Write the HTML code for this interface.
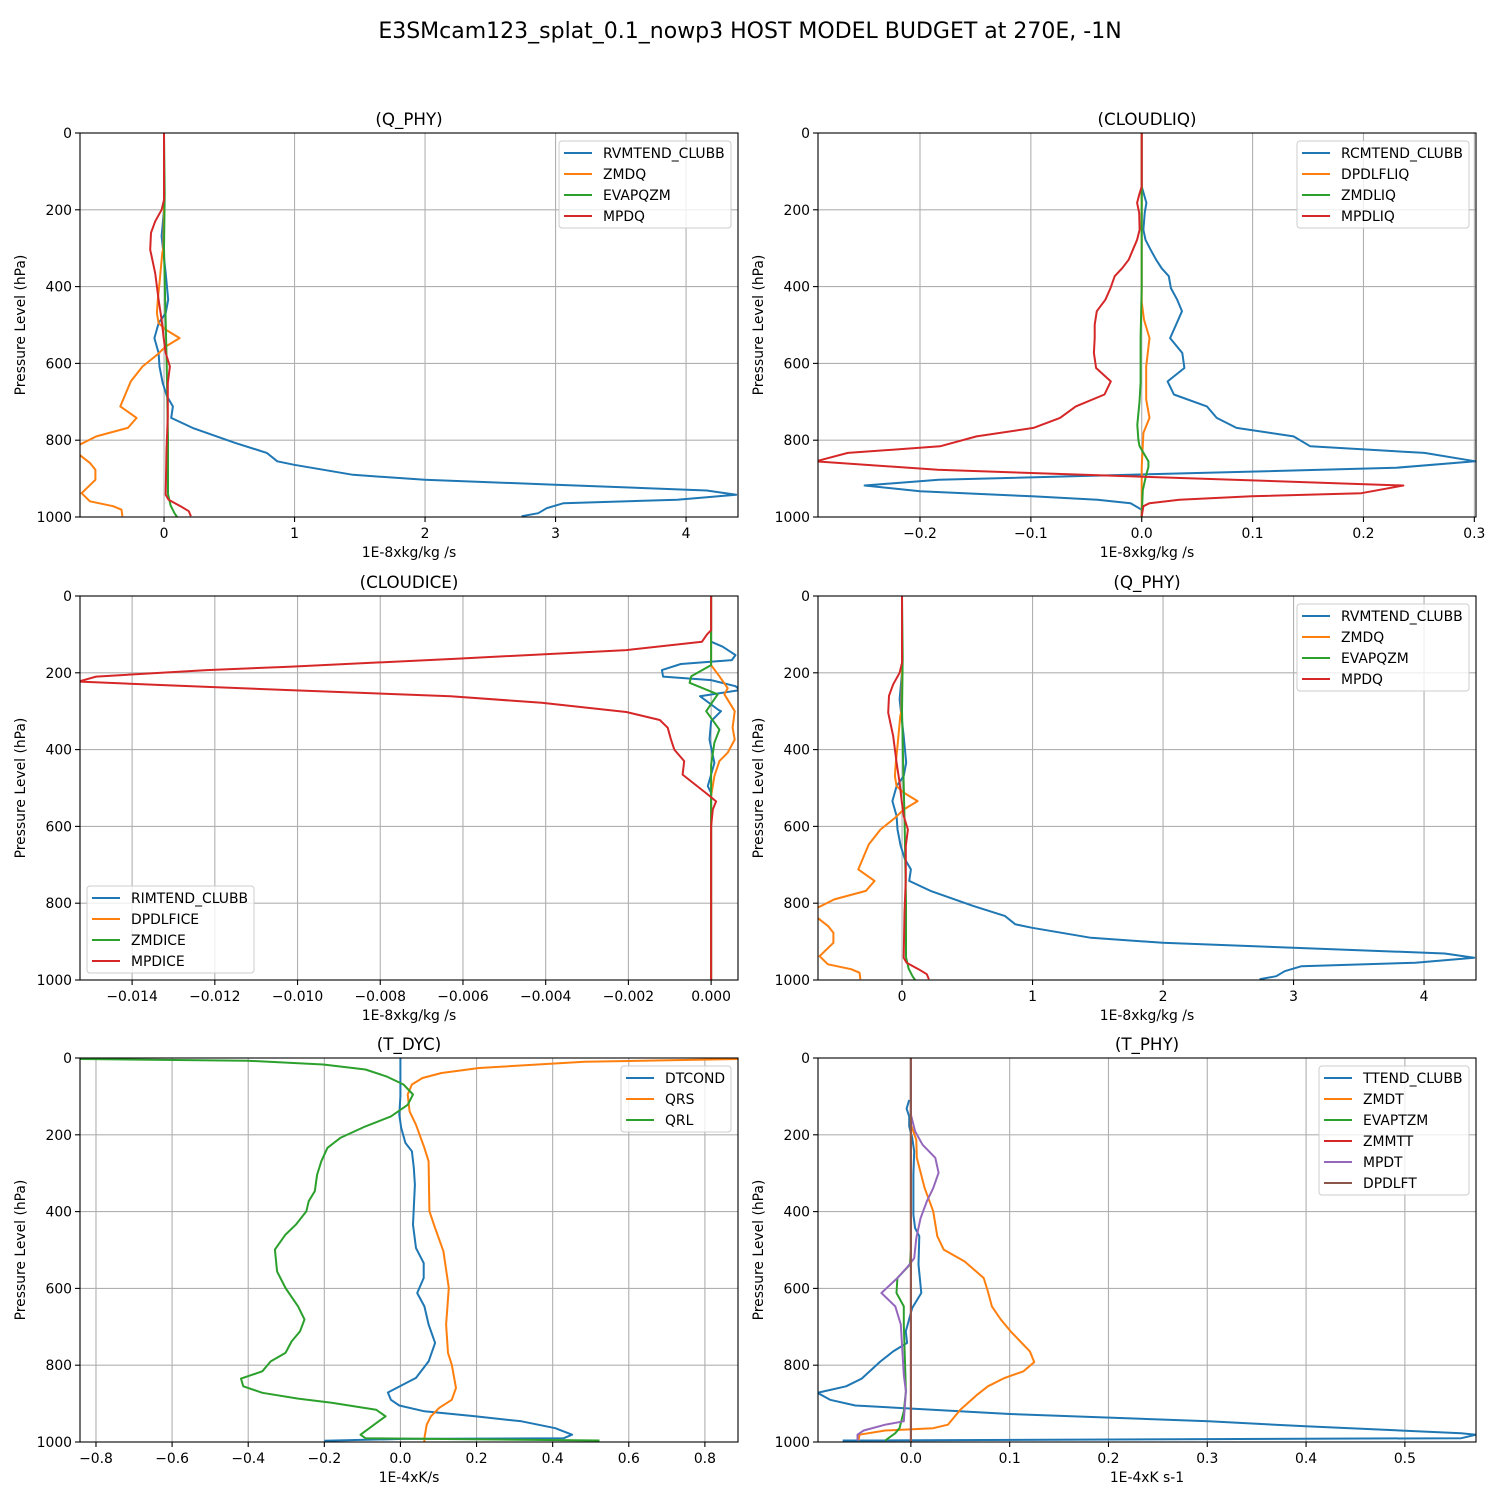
<!DOCTYPE html>
<html><head><meta charset="utf-8">
<style>
html,body{margin:0;padding:0;background:#fff;}
svg{display:block;font-family:"DejaVu Sans","Liberation Sans",sans-serif;}
</style></head>
<body>
<svg id="fig" width="1500" height="1500" viewBox="0 0 1500 1500" xmlns="http://www.w3.org/2000/svg">
<rect x="0" y="0" width="1500" height="1500" fill="#fff"/>
<text x="750" y="38" text-anchor="middle" font-size="22">E3SMcam123_splat_0.1_nowp3 HOST MODEL BUDGET at 270E, -1N</text>
</svg>
<script>
// ---- y-axis (pressure) ticks shared ----
const pTicks = [0,200,400,600,800,1000];

// ---- Panel 1 / 4 : Q_PHY ----
const q_rvm_x = [0,0,-0.019,0.013,0.032,0.013,-0.042,-0.074,-0.042,-0.035,-0.01,0.023,0.068,0.055,0.219,0.545,0.787,0.868,0.997,1.448,1.997,2.997,4.158,4.384,3.932,3.061,2.932,2.868,2.74];
const q_rvm_p = [0,200,269,365,434,469,495,534,573,608,651,686,712,742,768,807,833,855,864,890,903,916,931,942,955,964,977,990,998];
const q_zmdq_x = [0,0,-0.005,-0.013,-0.035,-0.048,-0.055,-0.042,0.013,0.119,0.013,-0.052,-0.165,-0.255,-0.335,-0.21,-0.277,-0.519,-0.648,-0.648,-0.568,-0.526,-0.526,-0.632,-0.568,-0.39,-0.326,-0.319];
const q_zmdq_p = [0,200,300,312,391,434,469,495,512,534,556,577,608,647,712,742,768,790,812,838,859,877,903,938,959,972,981,998];
const q_evap_x = [0,0.005,0,0.01,0.02,0.03,0.03,0.05,0.08,0.1];
const q_evap_p = [0,160,300,450,600,800,940,970,990,1000];
const q_mpdq_x = [0,0,-0.019,-0.068,-0.1,-0.106,-0.068,-0.042,-0.019,-0.003,0.013,0.045,0.029,0.029,0.019,0.013,0.035,0.126,0.19,0.206];
const q_mpdq_p = [0,174,200,230,260,304,365,434,486,534,573,608,651,738,825,942,955,972,985,998];
const q_xticks = [0,1,2,3,4];
const q_xtickLabels = ["0","1","2","3","4"];

// ---- Panel 2 : CLOUDLIQ ----
const l_rcm_x = [0,0,0.0042,0.0027,0.0015,0.0034,0.008,0.013,0.0179,0.0244,0.0263,0.032,0.0363,0.031,0.0256,0.0366,0.0385,0.0233,0.029,0.0588,0.0676,0.0855,0.137,0.152,0.255,0.301,0.229,-0.183,-0.25,-0.2,-0.099,-0.04,-0.01,0,0];
const l_rcm_p = [0,139,182,208,252,278,304,330,352,373,404,434,464,499,534,573,612,647,681,712,742,768,790,816,833,855,872,903,918,933,946,955,964,981,998];
const l_dpd_x = [0,0,0.002,0.007,0.004,0.004,0.007,0.0015,0,0];
const l_dpd_p = [0,440,486,534,608,694,742,781,870,1000];
const l_zmd_x = [0,0,-0.001,-0.001,-0.002,-0.004,-0.003,-0.002,0.003,0.006,0.006,0.004,0.001,0];
const l_zmd_p = [0,400,534,650,700,760,800,815,840,855,870,890,930,1000];
const l_mpd_x = [0,0,-0.0023,-0.0042,-0.0023,-0.0019,-0.0042,-0.008,-0.0118,-0.0176,-0.0244,-0.0282,-0.0328,-0.0405,-0.0424,-0.0424,-0.0431,-0.0412,-0.0279,-0.0336,-0.0595,-0.0737,-0.0977,-0.149,-0.182,-0.265,-0.294,-0.184,0.236,0.198,0.099,0.034,0.007,0.0015,0];
const l_mpd_p = [0,139,161,182,208,252,278,304,330,352,373,404,434,464,499,534,573,612,647,681,712,742,768,790,816,833,855,877,918,938,946,955,964,972,998];
const l_xticks = [-0.2,-0.1,0,0.1,0.2,0.3];
const l_xtickLabels = ["\u22120.2","\u22120.1","0.0","0.1","0.2","0.3"];

// ---- Panel 3 : CLOUDICE ----
const i_rim_x = [0,0,0.00028,0.00059,0.0005,-0.00073,-0.00119,-0.00116,0.0000,0.00059,0.0007,-0.00027,0.00018,0.00024,0,-0.00004,0.00008,-0.00008,0,0];
const i_rim_p = [0,119,132,154,167,177,193,210,219,235,245,261,297,300,326,374,435,495,513,1000];
const i_dpd_x = [0,0,0.0002,0.0004,0.00032,0.00057,0.00052,0.00057,0.0004,0.0002,0.00008,0,0];
const i_dpd_p = [0,180,209,240,256,300,343,374,408,430,469,521,1000];
const i_zmd_x = [0,0,-0.00048,-0.00052,0.00016,-0.00012,0.0002,0.00008,0,0];
const i_zmd_p = [0,180,209,226,256,300,348,382,440,1000];
const i_mpd_x = [0,0,-0.0001,-0.00022,-0.00205,-0.0061,-0.0102,-0.0122,-0.01487,-0.0153,-0.01324,-0.0102,-0.0063,-0.0041,-0.00205,-0.00124,-0.00105,-0.00097,-0.00089,-0.00065,-0.00069,-0.00008,0.00012,0.00004,0,0];
const i_mpd_p = [0,89,100,119,141,163,184,193,210,223,232,245,261,278,302,323,343,374,400,430,465,517,535,556,600,1000];
const i_xticks = [-0.014,-0.012,-0.010,-0.008,-0.006,-0.004,-0.002,0];
const i_xtickLabels = ["\u22120.014","\u22120.012","\u22120.010","\u22120.008","\u22120.006","\u22120.004","\u22120.002","0.000"];

// ---- Panel 5 : T_DYC ----
const d_dtc_x = [0,0,-0.002,-0.003,0.002,0.013,0.03,0.035,0.038,0.033,0.041,0.061,0.061,0.044,0.063,0.074,0.091,0.074,0.041,-0.033,-0.025,-0.003,0.063,0.196,0.318,0.407,0.451,0.429,0.008,-0.2];
const d_dtc_p = [0,100,130,148,182,221,243,286,330,434,495,534,573,612,647,694,742,790,833,871,890,905,920,933,946,964,981,990,992,997];
const d_qrs_x = [0.95,0.889,0.483,0.207,0.108,0.058,0.03,0.019,0.024,0.041,0.063,0.074,0.076,0.091,0.113,0.127,0.12,0.125,0.135,0.146,0.135,0.102,0.08,0.069,0.063,0.063];
const d_qrs_p = [0,2.6,10,26,39,52,69,95,139,174,234,269,399,443,503,599,694,768,799,859,890,911,933,955,990,1000];
const d_qrl_x = [-0.845,-0.402,-0.203,-0.092,-0.037,0.008,0.033,0.019,-0.025,-0.092,-0.158,-0.192,-0.208,-0.219,-0.225,-0.241,-0.247,-0.275,-0.302,-0.33,-0.324,-0.302,-0.269,-0.252,-0.264,-0.286,-0.302,-0.341,-0.363,-0.419,-0.413,-0.363,-0.269,-0.181,-0.064,-0.039,-0.064,-0.105,-0.092,0.523];
const d_qrl_p = [2.6,7,17,30,48,69,95,122,152,178,208,234,269,304,347,373,399,434,460,499,556,599,647,681,712,738,768,790,816,835,855,872,887,898,916,933,951,981,990,996];
const d_xticks = [-0.8,-0.6,-0.4,-0.2,0,0.2,0.4,0.6,0.8];
const d_xtickLabels = ["\u22120.8","\u22120.6","\u22120.4","\u22120.2","0.0","0.2","0.4","0.6","0.8"];

// ---- Panel 6 : T_PHY ----
const t_tt_x = [-0.0017,-0.0043,-0.0017,-0.0017,0.0013,0.0034,0.0026,0.0026,0.0043,0.0085,0.0077,0.0106,0.0013,-0.0051,-0.0038,-0.0179,-0.0307,-0.0498,-0.0656,-0.0945,-0.0818,-0.0562,0.1001,0.3015,0.3995,0.557,0.572,0.557,-0.069];
const t_tt_p = [109,132,152,178,208,243,304,408,443,464,538,612,651,712,742,764,790,835,855,872,890,905,927,946,959,977,981,990,996];
const t_zmdt_x = [0,0,0.0055,0.006,0.014,0.0226,0.0268,0.0332,0.0545,0.0737,0.078,0.082,0.091,0.101,0.1205,0.1248,0.114,0.095,0.078,0.067,0.05,0.0375,0.0226,-0.026,-0.052,-0.053];
const t_zmdt_p = [0,174,213,260,339,399,464,499,530,573,608,647,681,712,764,792,816,833,855,877,916,955,964,970,981,996];
const t_evap_x = [0,0,-0.0009,-0.0136,-0.0145,-0.0072,-0.0072,-0.005,-0.0072,-0.0115,-0.0158,-0.026];
const t_evap_p = [0,500,538,573,612,647,694,868,920,964,977,996];
const t_zmmtt_x = [0,0];
const t_zmmtt_p = [0,1000];
const t_mpdt_x = [0,0,0.0043,0.0119,0.0247,0.0281,0.0226,0.0162,0.0098,0.0055,0.0034,-0.003,-0.0136,-0.0298,-0.0158,-0.0102,-0.0072,-0.005,-0.0072,-0.026,-0.0477,-0.054,-0.054];
const t_mpdt_p = [0,148,191,226,260,299,339,373,417,469,521,543,573,612,647,694,825,868,946,955,970,981,996];
const t_dpdlft_x = [0,0];
const t_dpdlft_p = [0,1000];
const t_xticks = [0,0.1,0.2,0.3,0.4,0.5];
const t_xtickLabels = ["0.0","0.1","0.2","0.3","0.4","0.5"];

const C = ["#1f77b4","#ff7f0e","#2ca02c","#d62728","#9467bd","#8c564b"];
const NS = "http://www.w3.org/2000/svg";
const fig = document.getElementById('fig');

function mk(tag, attrs, parent){
  const e = document.createElementNS(NS, tag);
  for (const k in attrs) e.setAttribute(k, attrs[k]);
  (parent||fig).appendChild(e);
  return e;
}

const panels = [
  {key:'q-phy-top', title:'(Q_PHY)', x0:80, y0:133, xmin:-0.644, xmax:4.398, xt:q_xticks, xl:q_xtickLabels, xlabel:'1E-8xkg/kg /s', legend:'ur', legW:172,
   series:[['RVMTEND_CLUBB',q_rvm_x,q_rvm_p,C[0]],['ZMDQ',q_zmdq_x,q_zmdq_p,C[1]],['EVAPQZM',q_evap_x,q_evap_p,C[2]],['MPDQ',q_mpdq_x,q_mpdq_p,C[3]]]},
  {key:'cloudliq', title:'(CLOUDLIQ)', x0:818, y0:133, xmin:-0.292, xmax:0.3015, xt:l_xticks, xl:l_xtickLabels, xlabel:'1E-8xkg/kg /s', legend:'ur', legW:172,
   series:[['RCMTEND_CLUBB',l_rcm_x,l_rcm_p,C[0]],['DPDLFLIQ',l_dpd_x,l_dpd_p,C[1]],['ZMDLIQ',l_zmd_x,l_zmd_p,C[2]],['MPDLIQ',l_mpd_x,l_mpd_p,C[3]]]},
  {key:'cloudice', title:'(CLOUDICE)', x0:80, y0:596, xmin:-0.01526, xmax:0.00065, xt:i_xticks, xl:i_xtickLabels, xlabel:'1E-8xkg/kg /s', legend:'ll', legW:167,
   series:[['RIMTEND_CLUBB',i_rim_x,i_rim_p,C[0]],['DPDLFICE',i_dpd_x,i_dpd_p,C[1]],['ZMDICE',i_zmd_x,i_zmd_p,C[2]],['MPDICE',i_mpd_x,i_mpd_p,C[3]]]},
  {key:'q-phy-mid', title:'(Q_PHY)', x0:818, y0:596, xmin:-0.644, xmax:4.398, xt:q_xticks, xl:q_xtickLabels, xlabel:'1E-8xkg/kg /s', legend:'ur', legW:172,
   series:[['RVMTEND_CLUBB',q_rvm_x,q_rvm_p,C[0]],['ZMDQ',q_zmdq_x,q_zmdq_p,C[1]],['EVAPQZM',q_evap_x,q_evap_p,C[2]],['MPDQ',q_mpdq_x,q_mpdq_p,C[3]]]},
  {key:'t-dyc', title:'(T_DYC)', x0:80, y0:1058, xmin:-0.842, xmax:0.887, xt:d_xticks, xl:d_xtickLabels, xlabel:'1E-4xK/s', legend:'ur', legW:110,
   series:[['DTCOND',d_dtc_x,d_dtc_p,C[0]],['QRS',d_qrs_x,d_qrs_p,C[1]],['QRL',d_qrl_x,d_qrl_p,C[2]]]},
  {key:'t-phy', title:'(T_PHY)', x0:818, y0:1058, xmin:-0.094, xmax:0.572, xt:t_xticks, xl:t_xtickLabels, xlabel:'1E-4xK s-1', legend:'ur', legW:150,
   series:[['TTEND_CLUBB',t_tt_x,t_tt_p,C[0]],['ZMDT',t_zmdt_x,t_zmdt_p,C[1]],['EVAPTZM',t_evap_x,t_evap_p,C[2]],['ZMMTT',t_zmmtt_x,t_zmmtt_p,C[3]],['MPDT',t_mpdt_x,t_mpdt_p,C[4]],['DPDLFT',t_dpdlft_x,t_dpdlft_p,C[5]]]}
];

const W = 658, H = 384;
panels.forEach((P, pi) => {
  const g = mk('g', {});
  
  
  const xs = v => P.x0 + (v - P.xmin) / (P.xmax - P.xmin) * W;
  const ys = p => P.y0 + p / 1000 * H;
  const cid = 'clip' + pi;
  const cp = mk('clipPath', {id: cid}, g);
  mk('rect', {x: P.x0, y: P.y0, width: W, height: H}, cp);
  P.xt.forEach((v, i) => {
    const x = xs(v);
    const gl = mk('line', {x1:x, x2:x, y1:P.y0, y2:P.y0+H, stroke:'#b0b0b0', 'stroke-width':1.1}, g);
    
    
    const tk = mk('line', {x1:x, x2:x, y1:P.y0+H, y2:P.y0+H+5, stroke:'#000', 'stroke-width':1.1}, g);
    
    
    const t = mk('text', {x:x, y:P.y0+H+21, 'text-anchor':'middle', 'font-size':13.9}, g);
    
    
    t.textContent = P.xl[i];
  });
  pTicks.forEach(p => {
    const y = ys(p);
    const gl = mk('line', {x1:P.x0, x2:P.x0+W, y1:y, y2:y, stroke:'#b0b0b0', 'stroke-width':1.1}, g);
    
    
    const tk = mk('line', {x1:P.x0-5, x2:P.x0, y1:y, y2:y, stroke:'#000', 'stroke-width':1.1}, g);
    
    
    const t = mk('text', {x:P.x0-8, y:y+5, 'text-anchor':'end', 'font-size':13.9}, g);
    
    
    t.textContent = String(p);
  });
  const sg = mk('g', {'clip-path': 'url(#' + cid + ')'}, g);
  P.series.forEach(s => {
    const pts = s[1].map((v, i) => xs(v).toFixed(1) + ',' + ys(s[2][i]).toFixed(1)).join(' ');
    const pl = mk('polyline', {points: pts, fill:'none', stroke:s[3], 'stroke-width':2, 'stroke-linejoin':'round'}, sg);
    
    
  });
  const fr = mk('rect', {x:P.x0, y:P.y0, width:W, height:H, fill:'none', stroke:'#000', 'stroke-width':1.1}, g);
  
  
  const tt = mk('text', {x:P.x0+W/2, y:P.y0-8, 'text-anchor':'middle', 'font-size':16.7}, g);
  
  
  tt.textContent = P.title;
  const xl = mk('text', {x:P.x0+W/2, y:P.y0+H+40, 'text-anchor':'middle', 'font-size':13.9}, g);
  
  
  xl.textContent = P.xlabel;
  const yx = P.x0 - 55, yy = P.y0 + H/2;
  const yl = mk('text', {x:yx, y:yy, 'text-anchor':'middle', 'font-size':13.9, transform:'rotate(-90 '+yx+' '+yy+')'}, g);
  
  
  yl.textContent = 'Pressure Level (hPa)';
  const n = P.series.length, lh = n*21 + 3;
  const lx = P.legend === 'ur' ? P.x0 + W - 7 - P.legW : P.x0 + 7;
  const ly = P.legend === 'ur' ? P.y0 + 8 : P.y0 + H - 7 - lh;
  const lg = mk('g', {}, g);
  
  
  mk('rect', {x:lx, y:ly, width:P.legW, height:lh, rx:3, fill:'#fff', 'fill-opacity':0.8, stroke:'#cccccc', 'stroke-width':1}, lg);
  P.series.forEach((s, i) => {
    const yy2 = ly + 12 + i*21;
    const le = mk('g', {}, lg);
    
    
    mk('line', {x1:lx+5, x2:lx+33, y1:yy2, y2:yy2, stroke:s[3], 'stroke-width':2}, le);
    const t = mk('text', {x:lx+44, y:yy2+5, 'font-size':13.9}, le);
    t.textContent = s[0];
  });
});
</script>
</body></html>
